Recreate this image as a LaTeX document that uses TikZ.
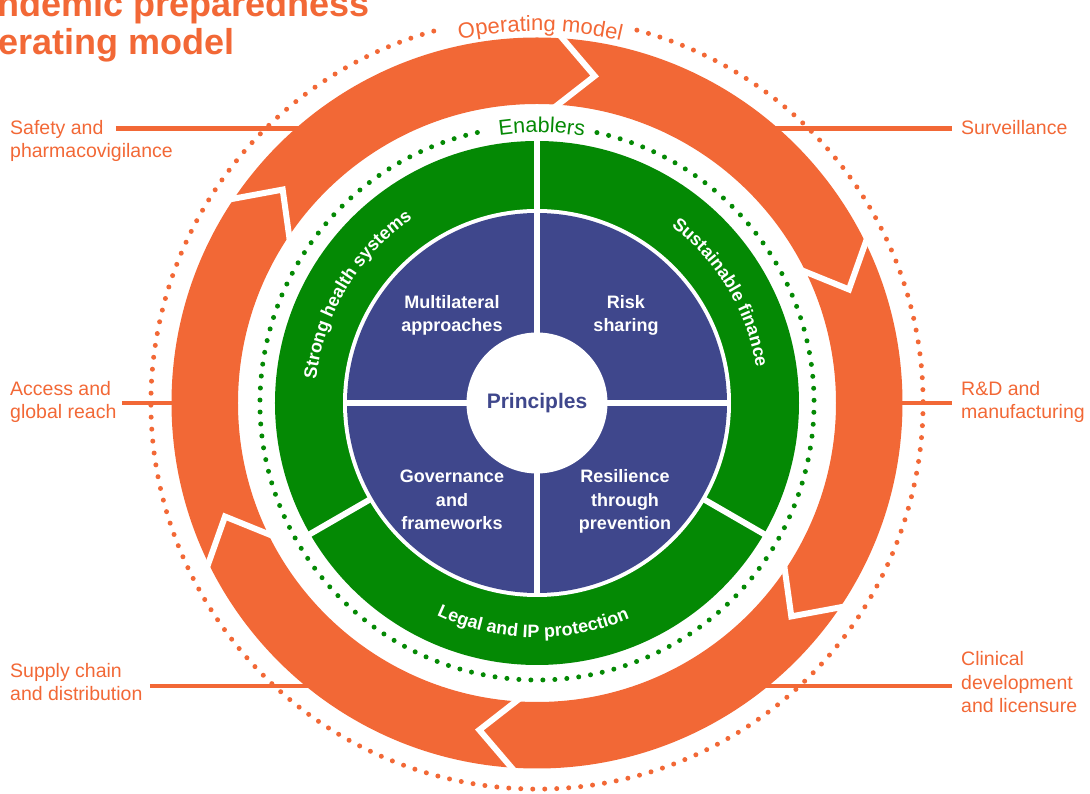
\documentclass[tikz,border=0pt]{standalone}
\usepackage{fontspec}
\setmainfont{Liberation Sans}
\setsansfont{Liberation Sans}
\usetikzlibrary{calc,decorations.text}

\definecolor{orng}{RGB}{242,104,54}
\definecolor{grn}{RGB}{4,137,4}
\definecolor{purp}{RGB}{63,71,140}

\newcommand\arcwhite{\fontsize{18}{18}\selectfont\bfseries\color{white}}
\newcommand\arcgreen{\fontsize{21.5}{21.5}\selectfont\color{grn}}
\newcommand\arcorange{\fontsize{22}{22}\selectfont\color{orng}}

\begin{document}
\begin{tikzpicture}[x=1pt,y=1pt,
  sidelabel/.style={text=orng, font=\fontsize{19.5}{23.5}\selectfont, align=left, anchor=base west, inner sep=0pt},
  leader/.style={draw=orng, line width=4.5pt},
  quad/.style={text=white, font=\fontsize{18}{23.5}\selectfont\bfseries, align=center, anchor=base, inner sep=0pt},
  divider/.style={draw=white, line width=6pt},
  dotring/.style={line width=5pt, line cap=round, dash pattern=on 0pt off 12pt},
  notch/.style={draw=white, line width=6pt, line join=miter, miter limit=20},
  titletext/.style={text=orng, font=\fontsize{36}{37}\selectfont\bfseries, anchor=base east, inner sep=0pt}
]
\useasboundingbox (-537,-391) rectangle (553,403);

% title, running off the left edge
\node[titletext] (title1) at (-167,386) {Pandemic preparedness};
\node[titletext] (title2) at (-302,348.5) {operating model};

% outer dotted ring with its label
\draw[orng, dotring] (75:386pt) arc[start angle=75, end angle=-255.5, radius=386pt];
\path[decorate, decoration={text along path, text align=center,
  text={|\arcorange|Operating model}}]
  (115:372pt) arc[start angle=115, end angle=64, radius=372pt];

% operating model ring: six chevron segments
\fill[orng, even odd rule] (0,0) circle[radius=365.5pt] circle[radius=299pt];
\foreach \t in {80,20,-40,-100,-160,140}{
  \draw[notch] ($(\t:332pt)!1.25!({\t+6}:365.5pt)$) -- (\t:332pt)
    -- ($(\t:332pt)!1.25!({\t+6}:299pt)$);
}

% enablers dotted ring with its label
\draw[grn, dotring] (77.5:277pt) arc[start angle=77.5, end angle=-259.6, radius=277pt];
\path[decorate, decoration={text along path, text align=center,
  text={|\arcgreen|Enablers}}]
  (109:270.5pt) arc[start angle=109, end angle=69, radius=270.5pt];

% enablers ring
\fill[grn] (0,0) circle[radius=262pt];
\fill[white] (0,0) circle[radius=194pt];
\fill[purp] (0,0) circle[radius=190pt];
\draw[divider] (0,-192) -- (0,266);
\draw[divider] (-30:192pt) -- (-30:266pt);
\draw[divider] (-150:192pt) -- (-150:266pt);
\draw[divider] (-192,0) -- (192,0);

\path[decorate, decoration={text along path, text align=center,
  text={|\arcwhite|Strong health systems}}]
  (189:222pt) arc[start angle=189, end angle=109, radius=222pt];
\path[decorate, decoration={text along path, text align=center,
  text={|\arcwhite|Sustainable finance}}]
  (71:222pt) arc[start angle=71, end angle=-9, radius=222pt];
\path[decorate, decoration={text along path, text align=center,
  text={|\arcwhite|Legal and IP protection}}]
  (-131:234.5pt) arc[start angle=-131, end angle=-51, radius=234.5pt];

% principles
\node[circle, fill=white, minimum size=141pt, inner sep=0pt, text=purp,
  font=\fontsize{21}{21}\selectfont\bfseries] (principles) at (0,0) {Principles};
\node[quad] (multi) at (-85,71) {Multilateral\\approaches};
\node[quad] (risk) at (89,71) {Risk\\sharing};
\node[quad] (gov) at (-85,-127) {Governance\\and\\frameworks};
\node[quad] (resil) at (88,-127) {Resilience\\through\\prevention};

% functions of the operating model
\node[sidelabel] (safety) at (-527,245) {Safety and\\pharmacovigilance};
\node[sidelabel] (surv) at (424,268) {Surveillance};
\node[sidelabel] (access) at (-527,-16) {Access and\\global reach};
\node[sidelabel] (rnd) at (424,-16) {R\&D and\\manufacturing};
\node[sidelabel] (supply) at (-527,-298) {Supply chain\\and distribution};
\node[sidelabel] (clinical) at (424,-310) {Clinical\\development\\and licensure};

\coordinate (safetyA) at (-421,274.5);
\coordinate (safetyB) at (-236,274.5);
\coordinate (survA) at (236,274.5);
\coordinate (survB) at (415,274.5);
\coordinate (accessA) at (-415,0);
\coordinate (accessB) at (-362,0);
\coordinate (rndA) at (362,0);
\coordinate (rndB) at (415,0);
\coordinate (supplyA) at (-387,-283);
\coordinate (supplyB) at (-226,-283);
\coordinate (clinicalA) at (226,-283);
\coordinate (clinicalB) at (415,-283);
\draw[leader] (safetyA) -- (safetyB);
\draw[leader] (survA) -- (survB);
\draw[leader] (accessA) -- (accessB);
\draw[leader] (rndA) -- (rndB);
\draw[leader] (supplyA) -- (supplyB);
\draw[leader] (clinicalA) -- (clinicalB);
\end{tikzpicture}
\end{document}
